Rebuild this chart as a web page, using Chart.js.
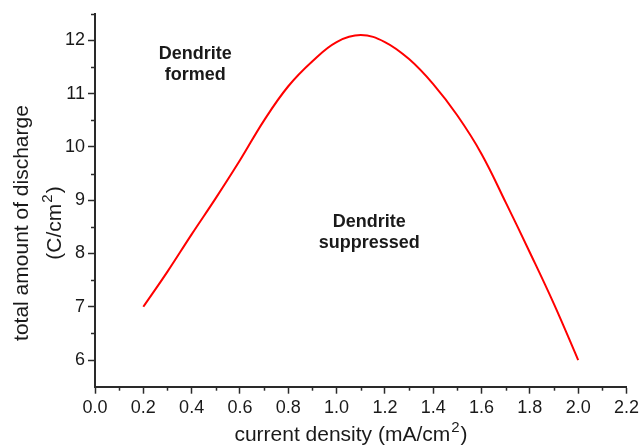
<!DOCTYPE html>
<html>
<head>
<meta charset="utf-8">
<script src="https://cdn.jsdelivr.net/npm/chart.js@4.4.1/dist/chart.umd.min.js"></script>
<style>
html,body{margin:0;padding:0;background:#fff;}
#wrap{width:643px;height:445px;position:relative;}
canvas{display:block;}
</style>
</head>
<body>
<div id="wrap"><canvas id="c" width="643" height="445"></canvas></div>
<script>
// ---- Data ----
const currentDensity = [0.2, 0.3, 0.4, 0.5, 0.6, 0.7, 0.8, 0.9, 1.0, 1.1, 1.2, 1.3, 1.4, 1.5, 1.6, 1.7, 1.8, 1.9, 2.0];
const dischargeAmount = [7.0, 7.66, 8.36, 9.04, 9.75, 10.5, 11.14, 11.61, 11.97, 12.1, 11.97, 11.65, 11.18, 10.59, 9.87, 8.96, 8.02, 7.05, 6.0];
const xTickValues = [0.0, 0.2, 0.4, 0.6, 0.8, 1.0, 1.2, 1.4, 1.6, 1.8, 2.0, 2.2];
const xTickLabels = ['0.0', '0.2', '0.4', '0.6', '0.8', '1.0', '1.2', '1.4', '1.6', '1.8', '2.0', '2.2'];
const xMinorTicks = [0.1, 0.3, 0.5, 0.7, 0.9, 1.1, 1.3, 1.5, 1.7, 1.9, 2.1];
const yTickValues = [6, 7, 8, 9, 10, 11, 12];
const yTickLabels = ['6', '7', '8', '9', '10', '11', '12'];
const yMinorTicks = [6.5, 7.5, 8.5, 9.5, 10.5, 11.5, 12.5];
const xTitle = ['current density (mA/cm', '2', ')'];
const yTitleLines = ['total amount of discharge', ['(C/cm', '2', ')']];
const annotations = [
  {lines: ['Dendrite', 'formed'], x: 0.415, y: 11.65},
  {lines: ['Dendrite', 'suppressed'], x: 1.135, y: 8.5}
];

const FONT = '"Liberation Sans", Arial, Helvetica, sans-serif';
const AXIS_COLOR = '#2a2a2a';
const TEXT_COLOR = '#1a1a1a';

const points = currentDensity.map((x, i) => ({x: x, y: dischargeAmount[i]}));

// draws "base" + superscript + "tail" centred at (cx, cy) in current ctx transform
function drawSup(ctx, parts, cx, cy, size) {
  const big = size + 'px ' + FONT, small = Math.round(size * 0.7) + 'px ' + FONT;
  ctx.font = big; const w0 = ctx.measureText(parts[0]).width;
  ctx.font = small; const w1 = ctx.measureText(parts[1]).width + 2;
  ctx.font = big; const w2 = ctx.measureText(parts[2]).width;
  let x = cx - (w0 + w1 + w2) / 2;
  ctx.textAlign = 'left';
  ctx.font = big; ctx.fillText(parts[0], x, cy); x += w0;
  ctx.font = small; ctx.fillText(parts[1], x + 1, cy - size * 0.42); x += w1;
  ctx.font = big; ctx.fillText(parts[2], x, cy);
}

const extras = {
  id: 'extras',
  afterDraw(chart) {
    const ctx = chart.ctx;
    const xs = chart.scales.x, ys = chart.scales.y;
    const ca = chart.chartArea;
    ctx.save();
    // minor ticks
    ctx.strokeStyle = AXIS_COLOR;
    ctx.lineWidth = 1.5;
    xMinorTicks.forEach(v => {
      const px = Math.round(xs.getPixelForValue(v)) + 0.5;
      ctx.beginPath(); ctx.moveTo(px, ca.bottom); ctx.lineTo(px, ca.bottom + 4); ctx.stroke();
    });
    yMinorTicks.forEach(v => {
      const py = Math.round(ys.getPixelForValue(v)) + 0.5;
      ctx.beginPath(); ctx.moveTo(ca.left, py); ctx.lineTo(ca.left - 4, py); ctx.stroke();
    });
    // axis titles
    ctx.fillStyle = TEXT_COLOR;
    ctx.textBaseline = 'alphabetic';
    drawSup(ctx, xTitle, 351, 441, 21);
    ctx.save();
    ctx.translate(0, 223);
    ctx.rotate(-Math.PI / 2);
    ctx.textAlign = 'center';
    ctx.font = '21px ' + FONT;
    ctx.fillText(yTitleLines[0], 0, 28);
    drawSup(ctx, yTitleLines[1], 0, 61, 21);
    ctx.restore();
    // annotations
    ctx.font = 'bold 18px ' + FONT;
    ctx.textAlign = 'center';
    ctx.textBaseline = 'alphabetic';
    annotations.forEach(a => {
      const px = xs.getPixelForValue(a.x);
      const py = ys.getPixelForValue(a.y);
      a.lines.forEach((t, i) => ctx.fillText(t, px, py + i * 21));
    });
    ctx.restore();
  }
};

new Chart(document.getElementById('c'), {
  type: 'scatter',
  data: {
    datasets: [{
      data: points,
      showLine: true,
      borderColor: '#ff0000',
      borderWidth: 2,
      pointRadius: 0,
      fill: false,
      tension: 0.4
    }]
  },
  options: {
    responsive: false,
    maintainAspectRatio: false,
    devicePixelRatio: 1,
    animation: false,
    layout: {padding: {top: 11.5, right: 15.7, left: 0, bottom: 0}},
    plugins: {legend: {display: false}, tooltip: {enabled: false}},
    scales: {
      x: {
        type: 'linear',
        min: 0, max: 2.2,
        afterFit(s) { s.height = 58.3; },
        afterBuildTicks(s) { s.ticks = xTickValues.map(v => ({value: v})); },
        ticks: {
          autoSkip: false, maxRotation: 0,
          padding: 4,
          color: TEXT_COLOR,
          font: {family: FONT, size: 18},
          callback: (v, i) => xTickLabels[i]
        },
        grid: {drawOnChartArea: false, drawTicks: true, tickLength: 7, tickColor: AXIS_COLOR, tickWidth: 1.5},
        border: {display: true, color: AXIS_COLOR, width: 2}
      },
      y: {
        type: 'linear',
        min: 5.5, max: 12.5,
        afterFit(s) { s.width = 95; },
        afterBuildTicks(s) { s.ticks = yTickValues.map(v => ({value: v})); },
        ticks: {
          autoSkip: false,
          padding: 3,
          color: TEXT_COLOR,
          font: {family: FONT, size: 18},
          callback: (v, i) => yTickLabels[i]
        },
        grid: {drawOnChartArea: false, drawTicks: true, tickLength: 7, tickColor: AXIS_COLOR, tickWidth: 1.5},
        border: {display: true, color: AXIS_COLOR, width: 2}
      }
    }
  },
  plugins: [extras]
});
</script>
</body>
</html>
